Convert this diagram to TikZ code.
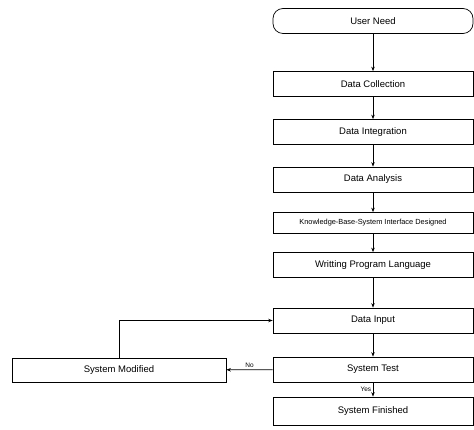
\documentclass[tikz,border=0pt]{standalone}
\usepackage{fontspec}
\setmainfont{Liberation Sans}
\usetikzlibrary{arrows.meta}

\begin{document}
\begin{tikzpicture}[x=1pt,y=-1pt,
    box/.style={draw, line width=0.7pt, minimum width=200pt, minimum height=25pt,
      inner sep=0pt, font=\fontsize{9.5}{11}\selectfont},
    term/.style={box, rounded corners=10pt},
    flow/.style={line width=0.7pt, -{Stealth[length=4.5pt,width=3.5pt]}},
    tag/.style={font=\fontsize{6.5}{7}\selectfont, inner sep=1.5pt}]
  \useasboundingbox (0,0) rectangle (474,430);
  \node[term] (need) at (373,21) {User Need};
  \node[box] (coll) at (373,84) {Data Collection};
  \node[box] (integ) at (373,132) {Data Integration};
  \node[box] (anal) at (373,179.5) {Data Analysis};
  \node[box, minimum height=21pt, font=\fontsize{7.4}{8}\selectfont] (kbs) at (373,223)
    {Knowledge-Base-System Interface Designed};
  \node[box] (prog) at (373,265) {Writting Program Language};
  \node[box] (input) at (373,320.5) {Data Input};
  \node[box] (test) at (373,369.5) {System Test};
  \node[box, minimum height=28pt] (fin) at (373,411) {System Finished};
  \node[box, minimum width=214pt, minimum height=24pt] (modif) at (119,370) {System Modified};
  \draw[flow] (need) -- (coll);
  \draw[flow] (coll) -- (integ);
  \draw[flow] (integ) -- (anal);
  \draw[flow] (anal) -- (kbs);
  \draw[flow] (kbs) -- (prog);
  \draw[flow] (prog) -- (input);
  \draw[flow] (input) -- (test);
  \draw[flow] (test) -- node[tag, left] {Yes} (fin);
  \draw[flow] (test) -- node[tag, above] {No} (modif);
  \draw[flow] (modif.north) |- (input.west);
\end{tikzpicture}
\end{document}
